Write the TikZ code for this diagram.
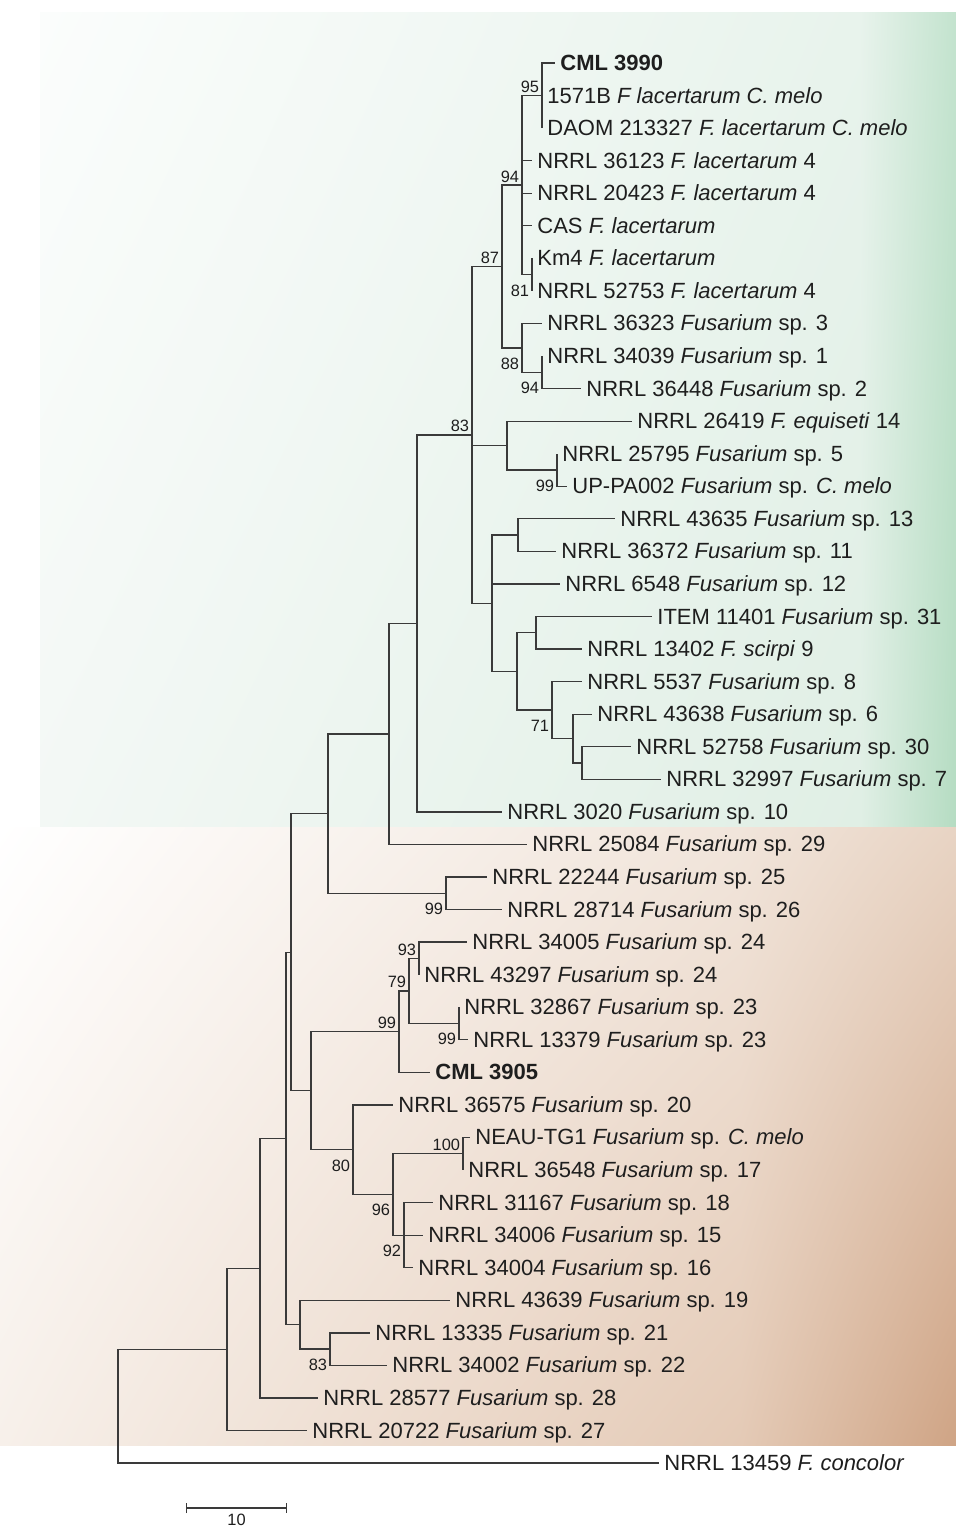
\documentclass[tikz,border=0pt]{standalone}
\usepackage{fontspec}
\setmainfont{Liberation Sans}
\usetikzlibrary{arrows.meta, positioning, shadings}
\definecolor{branchgray}{HTML}{3A3A3A}
\definecolor{labelgray}{HTML}{1E1E1E}
\definecolor{greenA}{HTML}{FBFDFC}
\definecolor{greenB}{HTML}{E8F3EC}
\definecolor{greenC}{HTML}{F3F8F5}
\definecolor{greenD}{HTML}{E0EFE5}
\definecolor{greenE}{HTML}{C3E3CE}
\definecolor{greenF}{HTML}{B5DCC2}
\definecolor{peachA}{HTML}{FFFFFF}
\definecolor{peachB}{HTML}{F1E5DB}
\definecolor{peachC}{HTML}{F7F0EA}
\definecolor{peachD}{HTML}{E4CAB6}
\definecolor{peachE}{HTML}{E8D4C4}
\definecolor{peachF}{HTML}{CFA485}
\tikzset{%
	branch/.style={
		draw=branchgray,
		line width=0.65pt
	},
	leaf/.style={
		anchor=west,
		inner sep=2.5pt,
		text height=7.9pt,
		text depth=0.4pt,
		text=labelgray,
		font=\fontsize{11}{12}\selectfont
	},
	boot up/.style={
		anchor=south east,
		inner sep=1.25pt,
		text=labelgray,
		font=\fontsize{8.2}{9}\selectfont
	},
	boot down/.style={
		boot up,
		anchor=north east,
		yshift=-3.5pt
	},
}
\begin{document}
\begin{tikzpicture}[x=0.5pt, y=-0.5pt]

	\useasboundingbox (0,0) rectangle (956,1530);
	\fill[white] (0,0) rectangle (956,1530);

	\shade[upper left=greenA, upper right=greenB, lower left=greenC, lower right=greenD] (40,13) rectangle (860,827);
	\shade[upper left=greenB, upper right=greenE, lower left=greenD, lower right=greenF] (860,13) rectangle (956,827);
	\shade[upper left=peachA, upper right=peachB, lower left=peachC, lower right=peachD] (0,827) rectangle (740,1445);
	\shade[upper left=peachB, upper right=peachE, lower left=peachD, lower right=peachF] (740,827) rectangle (956,1445);

	\foreach \tx/\lab [count=\i] in {
		555/{\textbf{CML 3990}},
		542/{1571B \textit{F lacertarum C. melo}},
		542/{DAOM 213327 \textit{F. lacertarum C. melo}},
		532/{NRRL 36123 \textit{F. lacertarum} 4},
		532/{NRRL 20423 \textit{F. lacertarum} 4},
		532/{CAS \textit{F. lacertarum}},
		532/{Km4 \textit{F. lacertarum}},
		532/{NRRL 52753 \textit{F. lacertarum} 4},
		542/{NRRL 36323 \textit{Fusarium} sp. 3},
		542/{NRRL 34039 \textit{Fusarium} sp. 1},
		581/{NRRL 36448 \textit{Fusarium} sp. 2},
		632/{NRRL 26419 \textit{F. equiseti} 14},
		557/{NRRL 25795 \textit{Fusarium} sp. 5},
		567/{UP-PA002 \textit{Fusarium} sp. \textit{C. melo}},
		615/{NRRL 43635 \textit{Fusarium} sp. 13},
		556/{NRRL 36372 \textit{Fusarium} sp. 11},
		560/{NRRL 6548 \textit{Fusarium} sp. 12},
		652/{ITEM 11401 \textit{Fusarium} sp. 31},
		582/{NRRL 13402 \textit{F. scirpi} 9},
		582/{NRRL 5537 \textit{Fusarium} sp. 8},
		592/{NRRL 43638 \textit{Fusarium} sp. 6},
		631/{NRRL 52758 \textit{Fusarium} sp. 30},
		661/{NRRL 32997 \textit{Fusarium} sp. 7},
		502/{NRRL 3020 \textit{Fusarium} sp. 10},
		527/{NRRL 25084 \textit{Fusarium} sp. 29},
		487/{NRRL 22244 \textit{Fusarium} sp. 25},
		502/{NRRL 28714 \textit{Fusarium} sp. 26},
		467/{NRRL 34005 \textit{Fusarium} sp. 24},
		419/{NRRL 43297 \textit{Fusarium} sp. 24},
		459/{NRRL 32867 \textit{Fusarium} sp. 23},
		468/{NRRL 13379 \textit{Fusarium} sp. 23},
		430/{\textbf{CML 3905}},
		393/{NRRL 36575 \textit{Fusarium} sp. 20},
		470/{NEAU-TG1 \textit{Fusarium} sp. \textit{C. melo}},
		463/{NRRL 36548 \textit{Fusarium} sp. 17},
		433/{NRRL 31167 \textit{Fusarium} sp. 18},
		423/{NRRL 34006 \textit{Fusarium} sp. 15},
		413/{NRRL 34004 \textit{Fusarium} sp. 16},
		450/{NRRL 43639 \textit{Fusarium} sp. 19},
		370/{NRRL 13335 \textit{Fusarium} sp. 21},
		387/{NRRL 34002 \textit{Fusarium} sp. 22},
		318/{NRRL 28577 \textit{Fusarium} sp. 28},
		307/{NRRL 20722 \textit{Fusarium} sp. 27},
		659/{NRRL 13459 \textit{F. concolor}}}
	{
		\coordinate (t\i) at (\tx, 63+32.56*\i-32.56);
		\node [leaf] (l\i) at (t\i) {\lab};
	}

	\foreach \n/\x/\y in {n95/542/95.6, n81/532/274.7, n94a/522/185.1, n94b/542/372.3,
		n88/522/347.9, n87/502/266.5, n99c/557/470, neq/507/445.6, nA/518/535.1,
		nB/536/632.8, nE/582/763, nD/573/738.6, n71/552/710.1, nC/517/671.5,
		nlow/492/603.3, n83/472/434.9, nX/417/623.4, nY/389/733.9, n99a/446/893.3,
		nZ/328/813.6, n93/419/958.4, n99d/459/1023.5, n79/409/991, n99b/399/1031.7,
		n100/463/1153.8, n92/404/1235.2, n96/393/1194.5, n80/353/1149.7,
		nP/311/1090.7, nW/291/952.2, n83b/330/1349.1, nQ/300/1324.7,
		nV/286/1138.5, nU/260/1268.2, nT/227/1349.4, root/118/1406.3}
	\coordinate (\n) at (\x,\y);

	\foreach \p/\c in {n95/t1, n95/t2, n95/t3, n81/t7, n81/t8,
		n94a/n95, n94a/t4, n94a/t5, n94a/t6, n94a/n81,
		n94b/t10, n94b/t11, n88/t9, n88/n94b, n87/n94a, n87/n88,
		n99c/t13, n99c/t14, neq/t12, neq/n99c,
		nA/t15, nA/t16, nB/t18, nB/t19, nE/t22, nE/t23, nD/t21, nD/nE,
		n71/t20, n71/nD, nC/nB, nC/n71, nlow/nA, nlow/t17, nlow/nC,
		n83/n87, n83/neq, n83/nlow, nX/n83, nX/t24, nY/nX, nY/t25,
		n99a/t26, n99a/t27, nZ/nY, nZ/n99a,
		n93/t28, n93/t29, n99d/t30, n99d/t31, n79/n93, n79/n99d,
		n99b/n79, n99b/t32, n100/t34, n100/t35, n92/t36, n92/t37, n92/t38,
		n96/n100, n96/n92, n80/t33, n80/n96, nP/n99b, nP/n80,
		nW/nZ, nW/nP, n83b/t40, n83b/t41, nQ/t39, nQ/n83b,
		nV/nW, nV/nQ, nU/nV, nU/t42, nT/nU, nT/t43, root/nT, root/t44}
	\draw [branch] (\p) |- (\c);

	\foreach \n/\v in {n95/95, n94a/94, n87/87, n83/83, n93/93, n79/79, n99b/99, n100/100}
	\node [boot up] (b-\n) at (\n) {\v};

	\foreach \n/\v in {n81/81, n88/88, n94b/94, n99c/99, n71/71, n99a/99, n99d/99,
		n80/80, n96/96, n92/92, n83b/83}
	\node [boot down] (b-\n) at (\n) {\v};

	\coordinate (bar-l) at (186,1508);
	\coordinate (bar-r) at (287,1508);
	\coordinate (bar-m) at (236.5,1508);
	\draw [branch, {Bar[width=5pt]}-{Bar[width=5pt]}] (bar-l) -- (bar-r);
	\node [boot up, anchor=north, inner sep=0.6pt, below=2pt of bar-m] (bar-t) {10};

\end{tikzpicture}
\end{document}
